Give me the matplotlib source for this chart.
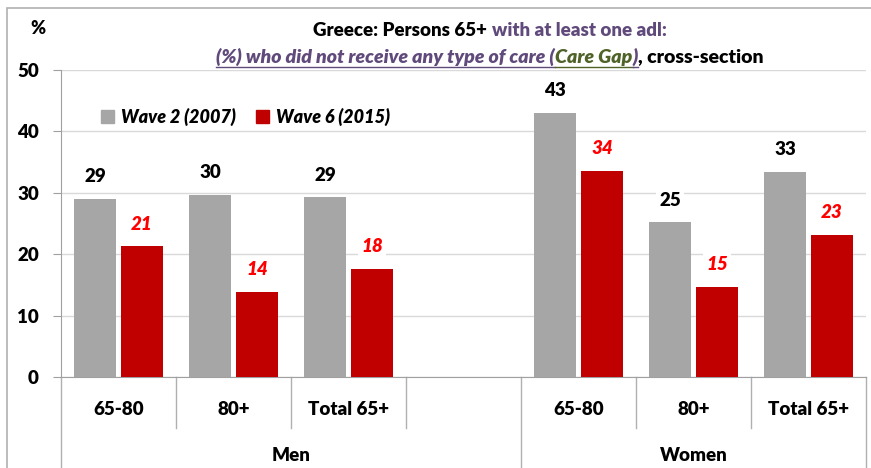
import matplotlib
matplotlib.use("Agg")
import matplotlib.pyplot as plt
from matplotlib.lines import Line2D
from matplotlib.patches import Rectangle

FONT = 'Lato'
plt.rcParams['font.family'] = [FONT, 'DejaVu Sans']
WT = "heavy"

# ---- data ----
groups = ["Men", "Women"]
subcats = ["65-80", "80+", "Total 65+", "", "65-80", "80+", "Total 65+"]
wave2 = [29.0, 29.7, 29.3, None, 43.0, 25.2, 33.4]
wave6 = [21.3, 13.9, 17.6, None, 33.6, 14.7, 23.2]
series_names = ["Wave 2 (2007)", "Wave 6 (2015)"]
yticks = [0, 10, 20, 30, 40, 50]

GRAY = "#a6a6a6"
RED = "#c00000"
LABRED = "#ff0000"
PURPLE = "#604a7b"
GREEN = "#4f6228"

W, H = 871, 468
fig = plt.figure(figsize=(W / 100, H / 100), dpi=100)
ax = fig.add_axes([61 / W, (H - 377) / H, (866 - 61) / W, (377 - 70) / H])

n = len(subcats)
bw = 0.365
off = 0.205
box = dict(facecolor="white", edgecolor="none", pad=2)
for i in range(n):
    if wave2[i] is not None:
        ax.bar(i - off, wave2[i], bw, color=GRAY, zorder=3)
        ax.text(i - off, wave2[i] + 2.2, f"{wave2[i]:.0f}", ha="center", va="bottom",
                fontsize=13.5, fontweight=WT, color="black", bbox=box, zorder=4)
    if wave6[i] is not None:
        ax.bar(i + off, wave6[i], bw, color=RED, zorder=3)
        ax.text(i + off, wave6[i] + 2.2, f"{wave6[i]:.0f}", ha="center", va="bottom",
                fontsize=13.5, fontweight=WT, fontstyle="italic", color=LABRED,
                bbox=box, zorder=4)

ax.set_xlim(-0.5, n - 0.5)
ax.set_ylim(0, 50)
ax.set_yticks(yticks)
ax.set_yticklabels([str(t) for t in yticks], fontsize=13.5, fontweight=WT)
ax.yaxis.grid(True, color="#d9d9d9", linewidth=1, zorder=0)
ax.set_xticks([])
for s in ["top", "right"]:
    ax.spines[s].set_visible(False)
ax.spines["left"].set_color("#a0a0a0")
ax.spines["bottom"].set_color("#a0a0a0")
ax.tick_params(axis="y", length=6, color="#a0a0a0", pad=10)

# category labels and separators
trans = ax.get_xaxis_transform()
for i, lab in enumerate(subcats):
    if lab:
        ax.text(i, -0.105, lab, transform=trans, ha="center", va="center",
                fontsize=13.5, fontweight=WT)
for b in range(n + 1):
    x = b - 0.5
    long = b in (0, 4, n)
    y1 = -0.33 if long else -0.165
    ax.add_line(Line2D([x, x], [0, y1], transform=trans, color="#b0b0b0",
                       linewidth=1, clip_on=False))
ax.text(1.5, -0.255, groups[0], transform=trans, ha="center", va="center",
        fontsize=13.5, fontweight=WT)
ax.text(5, -0.255, groups[1], transform=trans, ha="center", va="center",
        fontsize=13.5, fontweight=WT)

# legend
handles = [Rectangle((0, 0), 1, 1, color=GRAY), Rectangle((0, 0), 1, 1, color=RED)]
leg = ax.legend(handles, series_names, loc="upper left", bbox_to_anchor=(0.03, 0.93),
                ncol=2, frameon=False, handlelength=0.7, handleheight=0.7,
                handletextpad=0.4, columnspacing=1.1,
                prop={"family": FONT, "weight": WT, "style": "italic", "size": 13})

# % label
fig.text(38 / W, 1 - 28 / H, "%", ha="center", va="center", fontsize=13, fontweight=WT)

# title with mixed styles
fig.canvas.draw()
renderer = fig.canvas.get_renderer()

def draw_pieces(pieces, xc, yc, size):
    texts = []
    widths = []
    for txt, kw in pieces:
        t = fig.text(0, yc, txt, ha="left", va="center", fontsize=size, fontweight=WT, **kw)
        bb = t.get_window_extent(renderer)
        texts.append(t)
        widths.append(bb.width / W)
    total = sum(widths)
    x = xc - total / 2
    for t, w in zip(texts, widths):
        t.set_x(x)
        x += w
    return texts, widths

t1, w1 = draw_pieces([("Greece: Persons 65+ ", {"color": "black"}),
                      ("with at least one adl:", {"color": PURPLE})],
                     490 / W, 1 - 30 / H, 13.5)
pieces2 = [("(%) who did not receive any type of care (", {"color": PURPLE, "fontstyle": "italic"}),
           ("Care Gap", {"color": GREEN, "fontstyle": "italic"}),
           (")", {"color": PURPLE, "fontstyle": "italic"}),
           (", cross-section", {"color": "black"})]
t2, w2 = draw_pieces(pieces2, 490 / W, 1 - 57 / H, 14)
# underline
yl = 1 - 66.5 / H
for t, w, col in zip(t2[:3], w2[:3], [PURPLE, GREEN, PURPLE]):
    x0 = t.get_position()[0]
    fig.add_artist(Line2D([x0, x0 + w], [yl, yl], color=col, linewidth=1, transform=fig.transFigure))

# outer frame
fig.add_artist(Rectangle((7 / W, -0.01), 1.2, 1 - 8 / H + 0.01, transform=fig.transFigure,
                         fill=False, edgecolor="#b0b0b0", linewidth=1.2))

fig.savefig("out.png", dpi=100)
